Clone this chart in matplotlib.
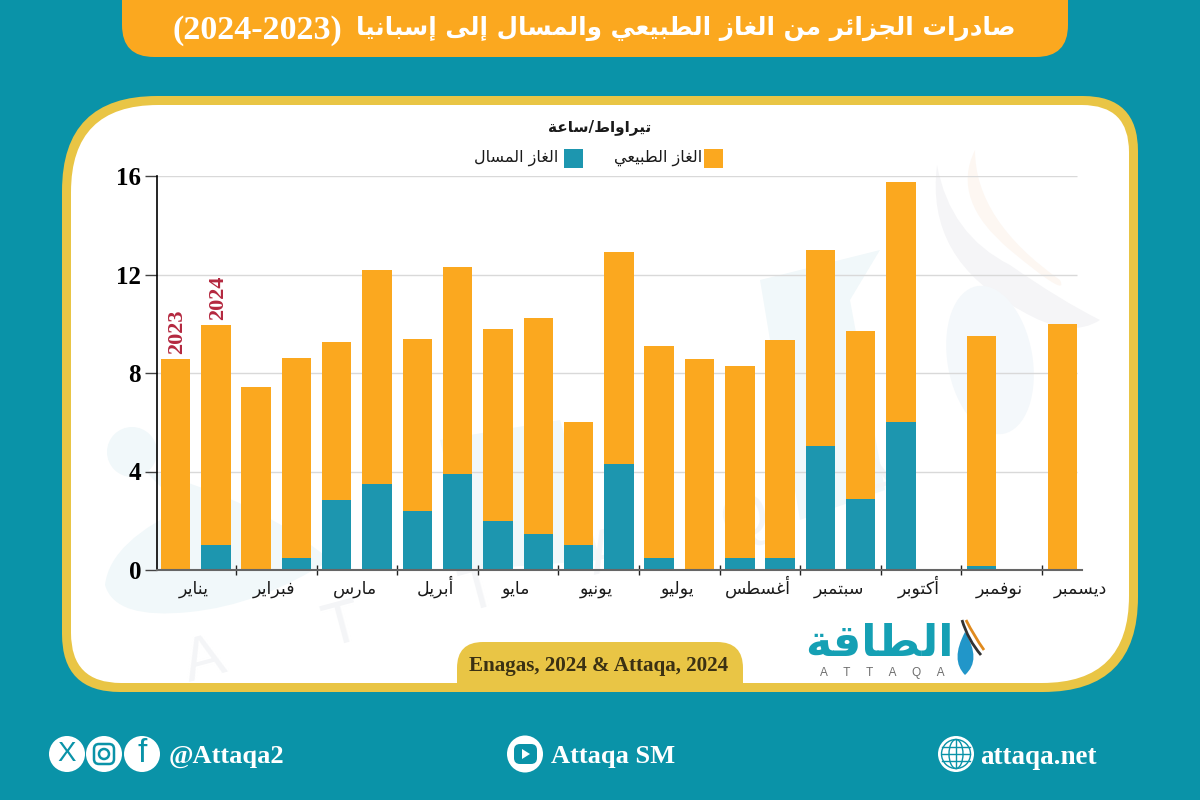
import matplotlib
matplotlib.use("Agg")
import matplotlib.pyplot as plt
from matplotlib.patches import Circle, Ellipse, PathPatch, Polygon, Rectangle
from matplotlib.path import Path
from matplotlib.transforms import blended_transform_factory

# values, one pair of bars per month (2023, then 2024)
months = ["يناير", "فبراير", "مارس", "أبريل", "مايو", "يونيو", "يوليو",
          "أغسطس", "سبتمبر", "أكتوبر", "نوفمبر", "ديسمبر"]
lng = [0, 1.0, 0.05, 0.5, 2.85, 3.5, 2.4, 3.9, 2.0, 1.45, 1.0, 4.3,
       0.5, 0, 0.5, 0.5, 5.05, 2.9, 6.0, 0, 0.15, 0, 0, 0]
pipeline = [8.55, 8.95, 7.4, 8.1, 6.4, 8.7, 7.0, 8.4, 7.8, 8.8, 5.0, 8.6,
            8.6, 8.55, 7.8, 8.85, 7.95, 6.8, 9.75, 0, 9.35, 0, 10.0, 0]
yticks = [0, 4, 8, 12, 16]

TEAL_BG = "#0A93A8"
ORANGE = "#FBA81F"
TEAL_BAR = "#1D96AF"
YELLOW = "#E9C545"

# matplotlib has no arabic shaping, so pick the joined forms by hand
DUAL = {"ب": 0xFE8F, "ت": 0xFE95, "ج": 0xFE9D, "س": 0xFEB1, "ص": 0xFEB9, "ط": 0xFEC1,
        "ع": 0xFEC9, "غ": 0xFECD, "ف": 0xFED1, "ق": 0xFED5, "ك": 0xFED9, "ل": 0xFEDD,
        "م": 0xFEE1, "ن": 0xFEE5, "ه": 0xFEE9, "ي": 0xFEF1, "ئ": 0xFE89}
RIGHT = {"ا": 0xFE8D, "أ": 0xFE83, "إ": 0xFE87, "د": 0xFEA9, "ر": 0xFEAD, "ز": 0xFEAF,
         "و": 0xFEED, "ة": 0xFE93, "ى": 0xFEEF}
LAM_ALEF = {"ا": 0xFEFB, "أ": 0xFEF7, "إ": 0xFEF9}


def ar(text):
    out = []
    i = 0
    while i < len(text):
        c = text[i]
        joins_prev = i > 0 and text[i - 1] in DUAL
        nxt = text[i + 1] if i + 1 < len(text) else ""
        if c == "ل" and nxt in LAM_ALEF:
            out.append(chr(LAM_ALEF[nxt] + (1 if joins_prev else 0)))
            i += 2
            continue
        joins_next = nxt in DUAL or nxt in RIGHT
        if c in DUAL:
            form = {(0, 0): 0, (1, 0): 1, (0, 1): 2, (1, 1): 3}[(int(joins_prev), int(joins_next))]
            out.append(chr(DUAL[c] + form))
        elif c in RIGHT:
            out.append(chr(RIGHT[c] + (1 if joins_prev else 0)))
        else:
            out.append(c)
        i += 1
    return "".join(reversed(out))


def rounded(x0, y0, x1, y1, tl, tr, br, bl):
    verts = [(x0 + tl, y0), (x1 - tr, y0), (x1, y0), (x1, y0 + tr), (x1, y1 - br), (x1, y1),
             (x1 - br, y1), (x0 + bl, y1), (x0, y1), (x0, y1 - bl), (x0, y0 + tl), (x0, y0),
             (x0 + tl, y0), (x0 + tl, y0)]
    L, Q = Path.LINETO, Path.CURVE3
    codes = [Path.MOVETO, L, Q, Q, L, Q, Q, L, Q, Q, L, Q, Q, Path.CLOSEPOLY]
    return Path(verts, codes)


def blob(points):
    # smooth shape: start point, then (control, end) pairs
    codes = [Path.MOVETO] + [Path.CURVE3] * (len(points) - 1)
    return Path(points, codes)


fig = plt.figure(figsize=(12, 8), dpi=100, facecolor=TEAL_BG)

# background layer in pixel coordinates
bg = fig.add_axes([0, 0, 1, 1])
bg.set_xlim(0, 1200)
bg.set_ylim(800, 0)
bg.axis("off")

bg.add_patch(PathPatch(rounded(122, -40, 1068, 57, 0, 0, 32, 32), fc=ORANGE, ec="none"))
bg.add_patch(PathPatch(rounded(62, 96, 1138, 692, 95, 55, 95, 58), fc=YELLOW, ec="none"))
bg.add_patch(PathPatch(rounded(71, 105, 1129, 683, 87, 47, 87, 50), fc="white", ec="none"))

# faint watermark behind the chart
PALE = "#F1F8FA"
bg.add_patch(Circle((132, 452), 25, fc=PALE, ec="none"))
bg.add_patch(PathPatch(blob([(145, 470), (170, 500), (190, 505), (110, 540), (105, 585),
                             (115, 620), (190, 612), (260, 605), (330, 560), (260, 500), (145, 470)]),
                       fc=PALE, ec="none"))
bg.add_patch(Polygon([(440, 440), (560, 420), (600, 560), (470, 570)], fc=PALE, ec="none"))
bg.add_patch(Polygon([(760, 280), (880, 250), (850, 300), (885, 490), (800, 520)], fc=PALE, ec="none"))
bg.add_patch(PathPatch(blob([(937, 165), (925, 260), (1020, 310), (1070, 340), (1100, 320),
                             (1060, 300), (1010, 265), (950, 235), (937, 165)]),
                       fc="#F5F5F7", ec="none"))
bg.add_patch(PathPatch(blob([(975, 150), (950, 200), (1010, 250), (1070, 300), (1060, 280),
                             (975, 220), (975, 150)]), fc="#FDF7F2", ec="none"))
bg.add_patch(Ellipse((990, 360), 85, 150, angle=-10, fc="#F4F8FB", ec="none"))
for x, y, ch in [(205, 662, "A"), (343, 627, "T"), (480, 592, "T"), (610, 555, "A"),
                 (745, 520, "Q"), (880, 485, "A")]:
    bg.text(x, y, ch, fontsize=44, color="#F4F5F7", ha="center", va="center", rotation=15,
            family="Liberation Sans")

bg.add_patch(PathPatch(rounded(457, 642, 743, 685, 26, 26, 0, 0), fc=YELLOW, ec="none"))

# title, subtitle and legend
bg.text(172, 30, "(2024-2023)", fontsize=24.5, fontweight="bold", color="white", ha="left", va="center",
        family="Liberation Serif")
bg.text(1015, 28, ar("صادرات الجزائر من الغاز الطبيعي والمسال إلى إسبانيا"),
        fontsize=17.7, fontweight="bold", color="white", ha="right", va="center", family="DejaVu Sans")
bg.text(600, 127, ar("تيراواط/ساعة"), fontsize=11, fontweight="bold", color="#1a1a1a",
        ha="center", va="center", family="DejaVu Sans")
bg.add_patch(Rectangle((704, 149), 19, 19, fc=ORANGE, ec="none"))
bg.text(702, 158, ar("الغاز الطبيعي"), fontsize=11.5, color="#1a1a1a", ha="right", va="center",
        family="DejaVu Sans")
bg.add_patch(Rectangle((564, 149), 19, 19, fc=TEAL_BAR, ec="none"))
bg.text(558, 158, ar("الغاز المسال"), fontsize=11.5, color="#1a1a1a", ha="right", va="center",
        family="DejaVu Sans")

# source and logo
bg.text(599, 666, "Enagas, 2024 & Attaqa, 2024", fontsize=15.2, fontweight="bold", color="#3B3113",
        ha="center", va="center", family="Liberation Serif")
bg.text(879, 644, ar("الطاقة"), fontsize=32, fontweight="bold", color="#15A0B4", ha="center",
        va="center", family="DejaVu Sans")
bg.text(882, 673, "A     T     T     A     Q     A", fontsize=8.5, color="#6E6E6E", ha="center",
        va="center", family="Liberation Sans")
bg.add_patch(PathPatch(blob([(965, 632), (950, 660), (965, 675), (982, 660), (965, 632)]),
                       fc="#2196C9", ec="none"))
bg.add_patch(PathPatch(blob([(962, 620), (968, 640), (981, 655)]), fc="none", ec="#333333", lw=2))
bg.add_patch(PathPatch(blob([(966, 620), (974, 636), (984, 650)]), fc="none", ec="#E08A1E", lw=2))

# footer icons and handles
for x in [67, 104, 142]:
    bg.add_patch(Circle((x, 754), 18, fc="white", ec="none"))
bg.text(67, 754, "X", fontsize=20, color=TEAL_BG, ha="center", va="center", family="Liberation Sans")
bg.add_patch(PathPatch(rounded(94, 744, 114, 764, 5, 5, 5, 5), fc="none", ec=TEAL_BG, lw=1.8))
bg.add_patch(Circle((104, 754), 5, fc="none", ec=TEAL_BG, lw=1.8))
bg.text(142, 753, "f", fontsize=24, color=TEAL_BG, ha="center", va="center", family="Liberation Sans")
bg.text(169, 757, "@Attaqa2", fontsize=19, fontweight="bold", color="white", ha="left", va="center",
        family="Liberation Serif")

bg.add_patch(Ellipse((525, 754), 36, 37, fc="white", ec="none"))
bg.add_patch(PathPatch(rounded(514, 744, 537, 764, 6, 6, 6, 6), fc=TEAL_BG, ec="none"))
bg.add_patch(Polygon([(522, 749), (522, 759), (530, 754)], fc="white", ec="none"))
bg.text(551, 757, "Attaqa SM", fontsize=19, fontweight="bold", color="white", ha="left", va="center",
        family="Liberation Serif")

bg.add_patch(Circle((956, 754), 18, fc="white", ec="none"))
bg.add_patch(Circle((956, 754), 14.5, fc="none", ec=TEAL_BG, lw=1))
bg.add_patch(Ellipse((956, 754), 14, 29, fc="none", ec=TEAL_BG, lw=1))
bg.plot([956, 956], [740, 768], color=TEAL_BG, lw=1)
for y in [747, 754, 761]:
    bg.plot([942, 970], [y, y], color=TEAL_BG, lw=1)
bg.text(980, 757, "attaqa.net", fontsize=19.5, fontweight="bold", color="white", ha="left", va="center",
        family="Liberation Serif")

# chart layer, placed so that 0 sits at y=570 and 16 at y=176
ax = fig.add_axes([157 / 1200, 1 - 570 / 800, (1082 - 157) / 1200, (570 - 176) / 800])
ax.patch.set_alpha(0)
x = list(range(len(lng)))
ax.set_xlim(-0.459, 22.49)
ax.set_ylim(0, 16)

ax.hlines(yticks[1:], -0.459, 22.37, color="#D9D9D9", lw=1, zorder=1)
ax.bar(x, lng, width=0.73, color=TEAL_BAR, zorder=2)
ax.bar(x, pipeline, width=0.73, bottom=lng, color=ORANGE, zorder=2)

for s in ["top", "right"]:
    ax.spines[s].set_visible(False)
ax.spines["left"].set_color("black")
ax.spines["left"].set_linewidth(1.2)
ax.spines["bottom"].set_color("#666666")
ax.spines["bottom"].set_linewidth(1.5)

ax.set_yticks(yticks)
ax.set_yticklabels([str(v) for v in yticks], fontsize=18, fontweight="bold", family="Liberation Serif")
ax.tick_params(axis="y", length=8.5, width=1, color="#444444", pad=3)
ax.set_xticks([i + 0.5 for i in range(1, 22, 2)])
ax.set_xticklabels([])
ax.tick_params(axis="x", direction="inout", length=7, width=1, color="#222222")

trans = blended_transform_factory(ax.transData, bg.transData)
for i, m in enumerate(months):
    ax.text(i * 2 + 0.45, 594, ar(m), transform=trans, fontsize=12.5, color="#1a1a1a", ha="center",
            va="baseline", family="DejaVu Sans", clip_on=False)

ax.text(0.05, lng[0] + pipeline[0] + 0.22, "2023", rotation=90, fontsize=16, fontweight="bold",
        color="#B4283F", ha="center", va="bottom", family="Liberation Serif")
ax.text(1.05, lng[1] + pipeline[1] + 0.22, "2024", rotation=90, fontsize=16, fontweight="bold",
        color="#B4283F", ha="center", va="bottom", family="Liberation Serif")

fig.savefig("out.png", dpi=100, facecolor=fig.get_facecolor())
